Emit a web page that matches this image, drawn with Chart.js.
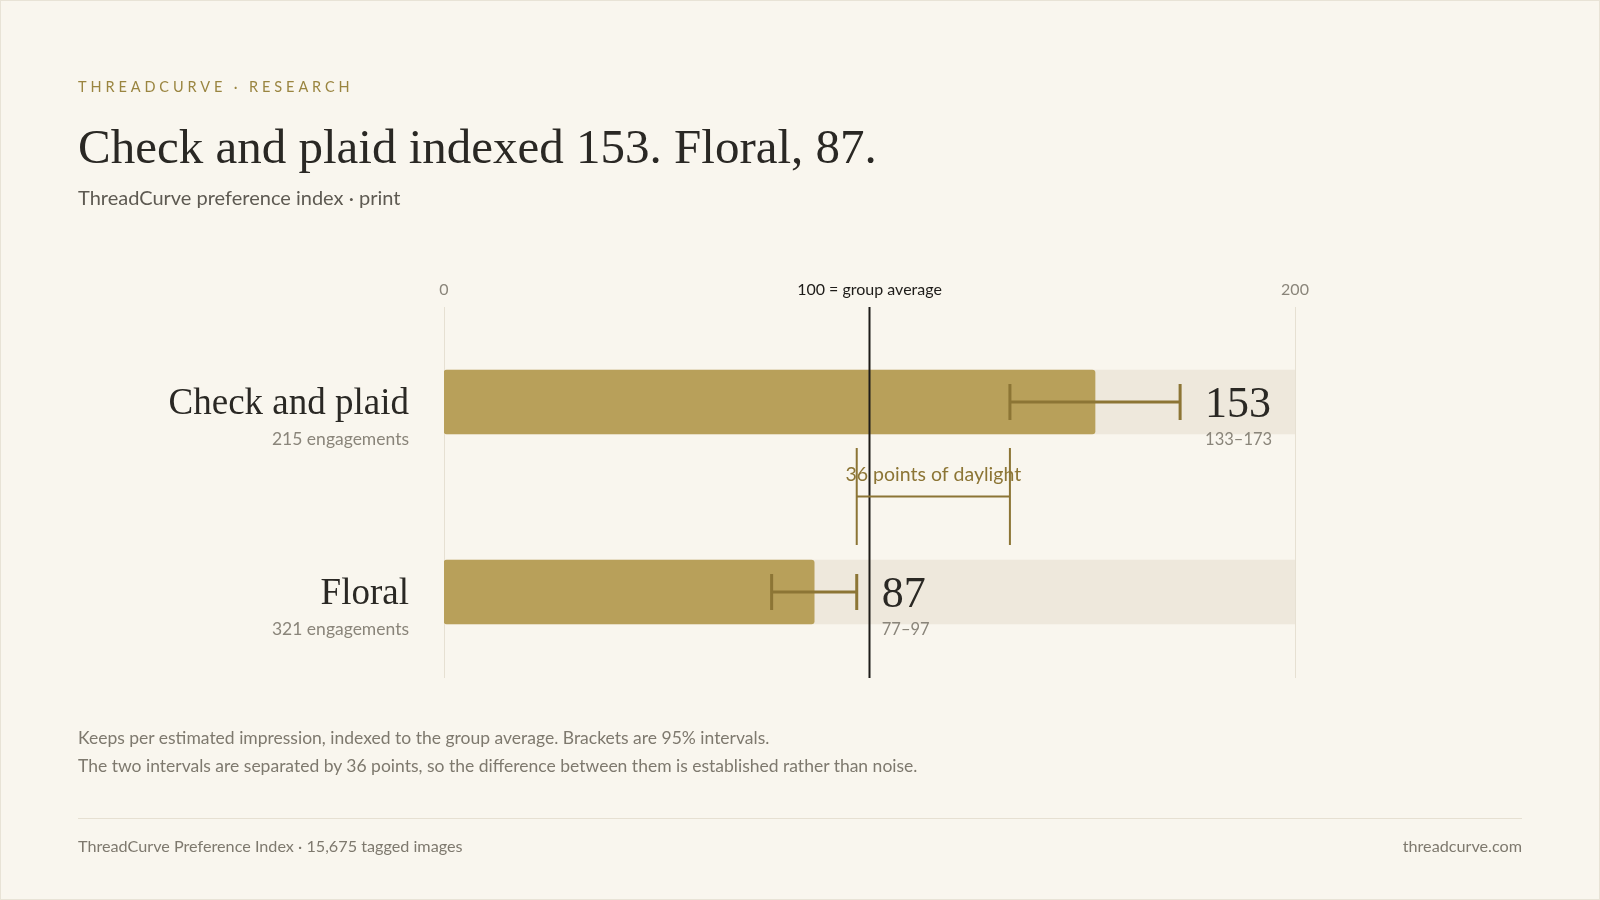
<!DOCTYPE html>
<html>
<head>
<meta charset="utf-8">
<script src="https://cdn.jsdelivr.net/npm/chart.js@4"></script>
<style>
  html, body { margin: 0; padding: 0; background: #F9F6EE; }
  .page { position: relative; width: 1598px; height: 898px; border: 1px solid #E8E3D6; overflow: hidden; font-family: Lato, 'Open Sans', sans-serif; }
  canvas { position: absolute; left: 0; top: 0; }
  .eyebrow { position: absolute; left: 77px; top: 77px; font-size: 14.5px; letter-spacing: 3.9px; color: #9A8540; }
  .title { position: absolute; left: 77px; top: 117px; font-family: 'Liberation Serif', serif; font-size: 49px; color: #2A2824; }
  .sub { position: absolute; left: 77px; top: 184px; font-size: 20px; color: #5E5A52; }
  .notes { position: absolute; left: 77px; top: 723px; font-size: 17.5px; line-height: 27.5px; color: #7E796E; }
  .rule { position: absolute; left: 77px; right: 77px; top: 817px; border-top: 1px solid #E6E0D2; }
  .foot { position: absolute; top: 835px; font-size: 16.2px; color: #7E796E; }
</style>
</head>
<body>
<div class="page">
  <canvas id="chart" width="1600" height="900"></canvas>
  <div class="eyebrow">THREADCURVE · RESEARCH</div>
  <div class="title">Check and plaid indexed 153. Floral, 87.</div>
  <div class="sub">ThreadCurve preference index · print</div>
  <div class="notes">Keeps per estimated impression, indexed to the group average. Brackets are 95% intervals.<br>The two intervals are separated by 36 points, so the difference between them is established rather than noise.</div>
  <div class="rule"></div>
  <div class="foot" style="left:77px">ThreadCurve Preference Index · 15,675 tagged images</div>
  <div class="foot" style="right:77px">threadcurve.com</div>
</div>
<script>
// ── Dados ─────────────────────────────────────────────
const categories  = ['Check and plaid', 'Floral'];
const engagements = ['215 engagements', '321 engagements'];
const values      = [153, 87];
const lows        = [133, 77];
const highs       = [173, 97];
const trackMax    = [200, 200];
const tickValues  = [0, 100, 200];
const tickLabels  = ['0', '100 = group average', '200'];
const gapLabel    = '36 points of daylight';

const C = {
  bar: '#B8A05A',
  track: '#EEE8DC',
  err: '#8C7535',
  ink: '#2A2824',
  grey: '#8A857A',
  grid: '#E6E0D2',
};

// ── Plugin: barras de erro, rótulos e colchete ─────────
const overlay = {
  id: 'overlay',
  beforeDatasetsDraw(chart) {
    const { ctx, chartArea: a, scales: { x, y } } = chart;
    const bottom = y.getPixelForValue(1) + 86;
    ctx.save();
    ctx.strokeStyle = C.grid; ctx.lineWidth = 1;
    [0, 200].forEach(v => {
      const px = Math.round(x.getPixelForValue(v)) + 0.5;
      ctx.beginPath(); ctx.moveTo(px, a.top); ctx.lineTo(px, bottom); ctx.stroke();
    });
    ctx.restore();
  },
  afterDatasetsDraw(chart) {
    const { ctx, chartArea: a, scales: { x, y } } = chart;
    ctx.save();
    // linha de referência em 100
    const ref = x.getPixelForValue(100);
    ctx.strokeStyle = '#1E1C19'; ctx.lineWidth = 2;
    ctx.beginPath(); ctx.moveTo(ref, a.top); ctx.lineTo(ref, y.getPixelForValue(1) + 86); ctx.stroke();

    categories.forEach((cat, i) => {
      const cy = y.getPixelForValue(i);
      // barra de erro
      const lo = x.getPixelForValue(lows[i]), hi = x.getPixelForValue(highs[i]);
      ctx.strokeStyle = C.err; ctx.lineWidth = 3;
      ctx.beginPath();
      ctx.moveTo(lo, cy); ctx.lineTo(hi, cy);
      ctx.moveTo(lo, cy - 18); ctx.lineTo(lo, cy + 18);
      ctx.moveTo(hi, cy - 18); ctx.lineTo(hi, cy + 18);
      ctx.stroke();
      // rótulos à esquerda
      ctx.textAlign = 'right'; ctx.textBaseline = 'alphabetic';
      ctx.fillStyle = C.ink; ctx.font = '37px "Liberation Serif", serif';
      ctx.fillText(cat, x.left - 35, cy + 12);
      ctx.fillStyle = C.grey; ctx.font = '17.5px Lato, sans-serif';
      ctx.fillText(engagements[i], x.left - 35, cy + 43);
      // valor e intervalo
      const vx = hi + 25;
      ctx.textAlign = 'left';
      ctx.fillStyle = C.ink; ctx.font = '44px "Liberation Serif", serif';
      ctx.fillText(String(values[i]), vx, cy + 15);
      ctx.fillStyle = C.grey; ctx.font = '16.5px Lato, sans-serif';
      ctx.fillText(lows[i] + '–' + highs[i], vx, cy + 43);
    });

    // colchete entre os intervalos
    const bx0 = x.getPixelForValue(highs[1]), bx1 = x.getPixelForValue(lows[0]);
    const top = y.getPixelForValue(0) + 46, bot = y.getPixelForValue(1) - 47;
    const mid = (top + bot) / 2;
    ctx.strokeStyle = C.err; ctx.lineWidth = 2;
    ctx.beginPath();
    ctx.moveTo(bx0, top); ctx.lineTo(bx0, bot);
    ctx.moveTo(bx1, top); ctx.lineTo(bx1, bot);
    ctx.moveTo(bx0, mid); ctx.lineTo(bx1, mid);
    ctx.stroke();
    ctx.fillStyle = '#8C7535'; ctx.font = '19.5px Lato, sans-serif';
    ctx.textAlign = 'center';
    ctx.fillText(gapLabel, (bx0 + bx1) / 2, mid - 16);
    ctx.restore();
  },
};

new Chart(document.getElementById('chart'), {
  type: 'bar',
  data: {
    labels: categories,
    datasets: [
      { data: values, backgroundColor: C.bar, barThickness: 64, borderRadius: 3, borderSkipped: false, order: 1 },
      { data: trackMax, backgroundColor: C.track, barThickness: 64, order: 2 },
    ],
  },
  options: {
    indexAxis: 'y',
    responsive: false,
    animation: false,
    layout: { padding: { left: 443, right: 306, top: 0, bottom: 214 } },
    plugins: { legend: { display: false }, tooltip: { enabled: false } },
    datasets: { bar: { grouped: false } },
    scales: {
      x: {
        position: 'top', min: 0, max: 200,
        afterBuildTicks: s => { s.ticks = tickValues.map(v => ({ value: v })); },
        grid: { display: false },
        border: { display: false },
        ticks: {
          padding: 0,
          maxRotation: 0,
          callback: (v) => tickLabels[tickValues.indexOf(v)],
          color: (c) => c.tick && c.tick.value === 100 ? '#1E1C19' : C.grey,
          font: { family: 'Lato', size: 16 },
        },
        afterFit: s => { s.height = 306; },
      },
      y: { display: false },
    },
  },
  plugins: [overlay],
});
</script>
</body>
</html>
